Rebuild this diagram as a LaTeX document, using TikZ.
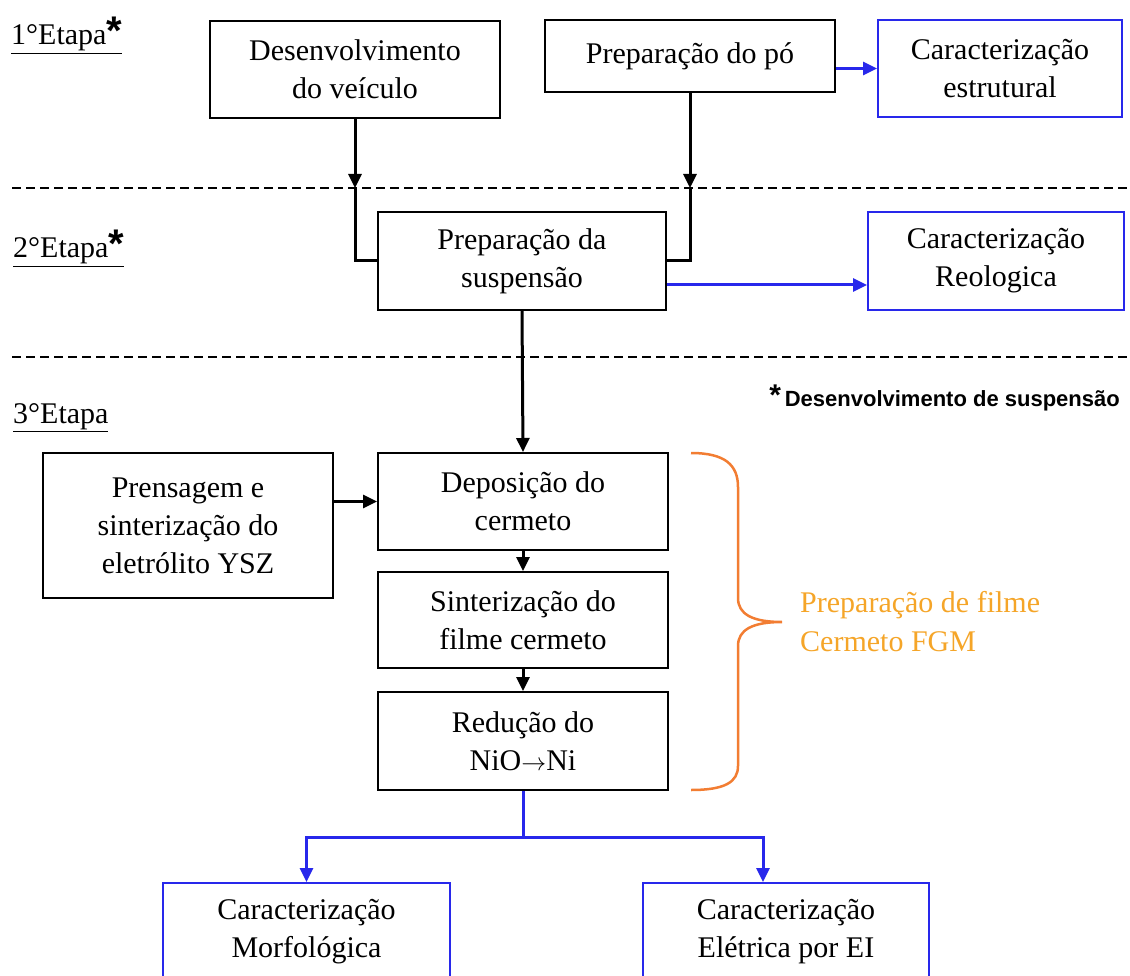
\documentclass[tikz,border=0pt]{standalone}
\usepackage{fontspec}
\setmainfont{Liberation Serif}
\newfontfamily\notefont{Liberation Sans}
\usetikzlibrary{arrows.meta}
\definecolor{myblue}{RGB}{40,40,235}
\definecolor{bracecol}{RGB}{242,125,50}
\definecolor{orangetext}{RGB}{245,165,40}
\newcommand\etapastar{\raisebox{0pt}{\notefont\bfseries\fontsize{40}{40}\selectfont *}}
\begin{document}
\begin{tikzpicture}[x=1pt,y=-1pt,
  box/.style={draw, line width=2pt, fill=white, align=center, inner sep=0pt, font=\fontsize{30}{38}\selectfont},
  bbox/.style={box, draw=myblue},
  conn/.style={line width=3pt},
  arr/.style={conn, -{Triangle[length=14pt,width=13pt]}},
  bconn/.style={conn, draw=myblue},
  barr/.style={bconn, -{Triangle[length=14pt,width=13pt]}},
  sep/.style={line width=2.5pt, dash pattern=on 9pt off 5pt},
  etapa/.style={anchor=base west, inner sep=0pt, font=\fontsize{30}{36}\selectfont},
]
\useasboundingbox (0,0) rectangle (1130,976);

% separators
\draw[sep] (12,188) -- (1130,188);
\draw[sep] (12,357) -- (1130,357);

% stage labels
\node[etapa] (e1) at (11,45) {\underline{1°Etapa\etapastar}};
\node[etapa] (e2) at (13,258) {\underline{2°Etapa\etapastar}};
\node[etapa] (e3) at (13,423) {\underline{3°Etapa}};
\node[anchor=base east, inner sep=0pt, font=\notefont\bfseries\fontsize{22}{26}\selectfont] (note) at (1120,406)
  {\raisebox{1pt}{\fontsize{30}{30}\selectfont *}\,Desenvolvimento de suspensão};

% boxes
\node[box, minimum width=290pt, minimum height=97pt] (desv) at (355,69.5) {Desenvolvimento\\do veículo};
\node[box, minimum width=290pt, minimum height=72pt] (po) at (690,56) {Preparação do pó};
\node[bbox, minimum width=244pt, minimum height=97pt] (estr) at (1000,68.5) {Caracterização\\estrutural};
\node[box, minimum width=288pt, minimum height=98pt] (susp) at (522,261) {Preparação da\\suspensão};
\node[bbox, minimum width=256pt, minimum height=98pt] (reol) at (996,261) {Caracterização\\Reologica};
\node[box, minimum width=290pt, minimum height=145pt] (pren) at (188,525.5) {Prensagem e\\sinterização do\\eletrólito YSZ};
\node[box, minimum width=290pt, minimum height=97pt] (depo) at (523,501.5) {Deposição do\\cermeto};
\node[box, minimum width=290pt, minimum height=96pt] (sint) at (523,620) {Sinterização do\\filme cermeto};
\node[box, minimum width=290pt, minimum height=98pt] (redu) at (523,741) {Redução do\\NiO$\rightarrow$Ni};
\node[bbox, minimum width=287pt, minimum height=98pt] (morf) at (306.5,932) {Caracterização\\Morfológica};
\node[bbox, minimum width=286pt, minimum height=98pt] (elet) at (786,932) {Caracterização\\Elétrica por EI};

% brace and its label
\draw[bracecol, line width=2.5pt] (691,453) .. controls (725,453) and (738,465) .. (738,487)
  -- (738,598) .. controls (738,614) and (752,622) .. (782,622)
  .. controls (752,622) and (738,630) .. (738,646)
  -- (738,766) .. controls (738,782) and (725,790) .. (691,790);
\node[anchor=west, align=left, inner sep=0pt, text=orangetext, font=\fontsize{30}{39}\selectfont] (fgm) at (800,622)
  {Preparação de filme\\Cermeto FGM};

% connectors
\coordinate (c1) at (355,188);
\coordinate (c2) at (690,188);
\draw[arr] (desv.south) -- (c1);
\draw[conn] (c1) |- (susp.west);
\draw[arr] (po.south) -- (c2);
\draw[conn] (c2) |- (susp.east);
\draw[barr] (po.east |- estr.west) -- (estr.west);
\draw[barr] ([yshift=-24pt]susp.east) -- ([yshift=-24pt]reol.west);
\draw[arr] (susp.south) -- (depo.north);
\draw[arr] (pren.east |- depo.west) -- (depo.west);
\draw[arr] (depo.south) -- (sint.north);
\draw[arr] (sint.south) -- (redu.north);
\coordinate (j) at (523,837);
\draw[bconn] (redu.south) -- (j);
\draw[barr] (j) -| (morf.north);
\draw[barr] (j) -| ([xshift=-23pt]elet.north);
\end{tikzpicture}
\end{document}
